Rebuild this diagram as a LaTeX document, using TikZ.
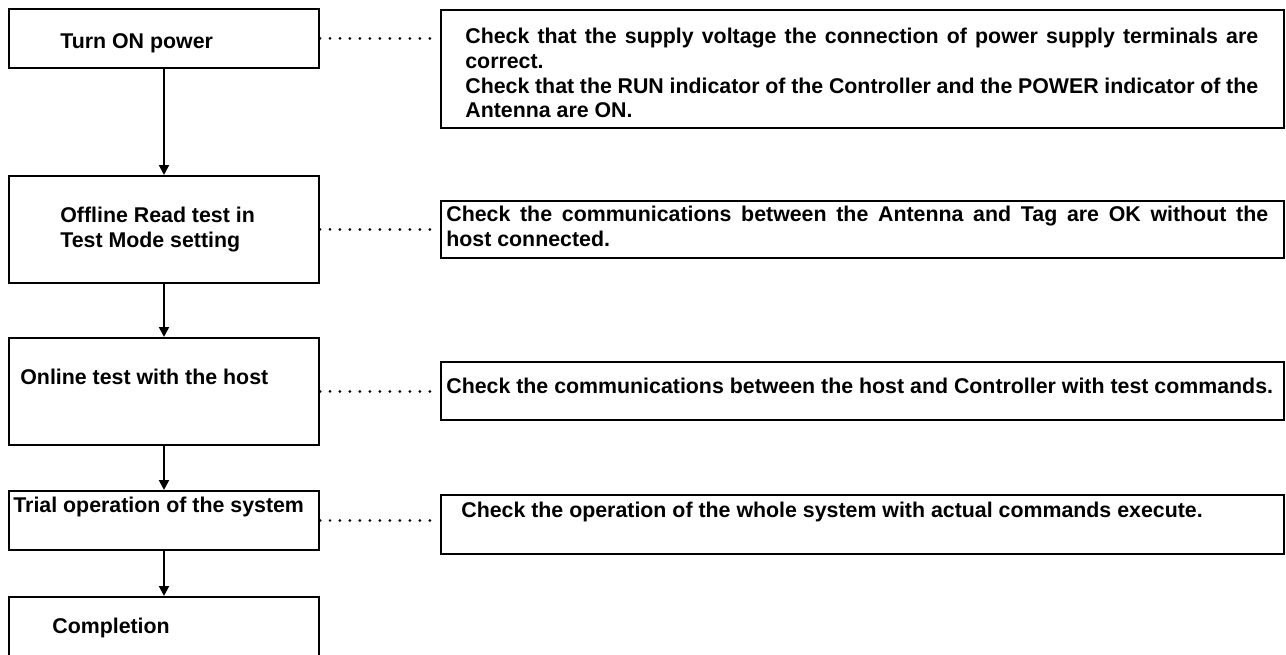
\documentclass[tikz,border=0pt]{standalone}
\usepackage{fontspec}
\setmainfont{Liberation Sans}
\usetikzlibrary{arrows.meta,positioning,fit}

% one justified line of a given width, with the font's own word spaces
\newcommand{\fullline}[2]{\makebox[#1][s]{\spaceskip=0pt\xspaceskip=0pt #2}}
\newcommand{\plainspaces}{\spaceskip=0pt\xspaceskip=0pt}

\begin{document}
\begin{tikzpicture}[
    x=0.02cm, y=-0.02cm,
    stepbox/.style={draw, line width=0.04cm, inner sep=0pt},
    steptext/.style={inner sep=0pt, font=\bfseries\fontsize{12.15}{14}\selectfont},
    steplines/.style={steptext, align=left},
    arrow/.style={-{Triangle[length=0.2cm,width=0.2cm]}, line width=0.04cm},
    dotline/.style={line width=0.06cm, line cap=round, dash pattern=on 0pt off 0.2cm, shorten >=0.18cm}
]
\useasboundingbox (0,0) rectangle (1286,655);

% Procedure steps (left column)
\node[stepbox, fit={(9,9) (319,68)}] (power) {};
\node[stepbox, fit={(9,176) (319,283)}] (offline) {};
\node[stepbox, fit={(9,338) (319,445)}] (online) {};
\node[stepbox, fit={(9,491) (319,550)}] (trial) {};
\node[stepbox, fit={(9,597) (319,690)}] (done) {};

\node[steptext, anchor=base west] (powertxt) at (60,49) {Turn ON power};
\node[steplines, anchor=base west, text width=5cm] (offlinetxt) at (60,223) {\plainspaces Offline Read test in\\Test Mode setting};
\node[steptext, anchor=base west] (onlinetxt) at (20,385) {Online test with the host};
\node[steptext, anchor=base west] (trialtxt) at (13,513) {Trial operation of the system};
\node[steptext, anchor=base west] (donetxt) at (52,633) {Completion};

% Flow between steps
\draw[arrow] (power) -- (offline);
\draw[arrow] (offline) -- (online);
\draw[arrow] (online) -- (trial);
\draw[arrow] (trial) -- (done);

% Checks (right column)
\node[stepbox, fit={(441,10) (1284,128)}] (chkpower) {};
\node[stepbox, fit={(441,201) (1284,258)}] (chkoffline) {};
\node[stepbox, fit={(441,362) (1284,420)}] (chkonline) {};
\node[stepbox, fit={(441,495) (1284,554)}] (chktrial) {};

\node[steplines, anchor=base west, text width=15.86cm] (chkpowertxt) at (465,44) {\plainspaces
\fullline{15.86cm}{Check that the supply voltage the connection of power supply terminals are}\\
correct.\\
\fullline{15.86cm}{Check that the RUN indicator of the Controller and the POWER indicator of the}\\
Antenna are ON.};
\node[steplines, anchor=base west, text width=16.44cm] (chkofflinetxt) at (446,222) {\plainspaces
\fullline{16.44cm}{Check the communications between the Antenna and Tag are OK without the}\\
host connected.};
\node[steptext, anchor=base west] (chkonlinetxt) at (446,394) {Check the communications between the host and Controller with test commands.};
\node[steptext, anchor=base west] (chktrialtxt) at (461,518) {Check the operation of the whole system with actual commands execute.};

% Dotted leaders
\draw[dotline] (power.east) -- (power.east -| chkpower.west);
\draw[dotline] (offline.east) -- (offline.east -| chkoffline.west);
\draw[dotline] (online.east) -- (online.east -| chkonline.west);
\draw[dotline] (trial.east) -- (trial.east -| chktrial.west);

\end{tikzpicture}
\end{document}
